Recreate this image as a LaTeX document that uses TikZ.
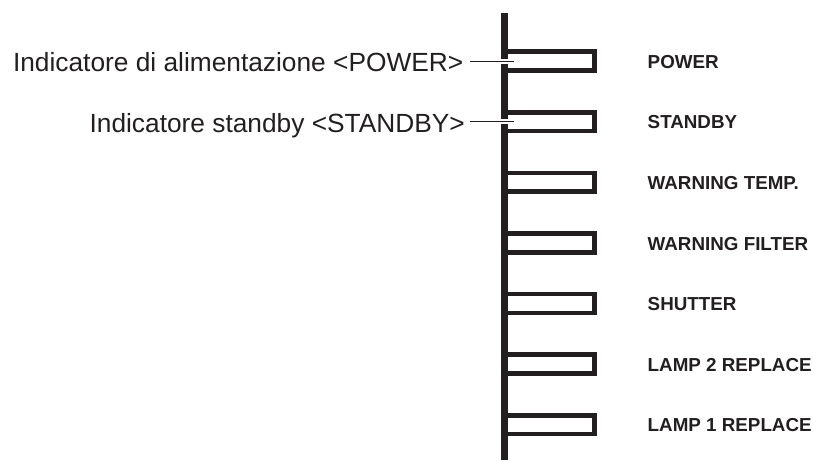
\documentclass[tikz,border=0pt]{standalone}
\usepackage{fontspec}
\setmainfont{Liberation Sans}
\definecolor{ink}{HTML}{231F20}
\tikzset{
  indbox/.style={draw=ink, line width=4.6, line join=miter, line cap=butt},
  indlabel/.style={anchor=base west, inner sep=0, text=ink, font=\bfseries\fontsize{18.8}{20}\selectfont},
  calllabel/.style={anchor=base east, inner sep=0, text=ink, font=\fontsize{26.3}{30}\selectfont},
  leader/.style={draw=ink, line width=1.3},
  halo/.style={draw=white, line width=5}
}
\begin{document}
\begin{tikzpicture}[x=1pt,y=-1pt]
\useasboundingbox (0,0) rectangle (813,460);
% main bar
\fill[ink] (500.8,13) rectangle (508.3,460);
% indicators
\foreach \i/\t in {0/POWER,1/STANDBY,2/WARNING TEMP.,3/WARNING FILTER,4/SHUTTER,5/LAMP 2 REPLACE,6/LAMP 1 REPLACE}{
  \pgfmathsetmacro\c{61+60.6*\i}
  \draw[indbox] (508,\c-9.4) -- (594.7,\c-9.4) -- (594.7,\c+9.4) -- (508,\c+9.4);
  \node[indlabel] (lab\i) at (647.5,\c+7.2) {\t};
}
% callouts
\node[calllabel] (cpower) at (463.5,71.7) {Indicatore di alimentazione <POWER>};
\node[calllabel] (cstandby) at (465,132.3) {Indicatore standby <STANDBY>};
\coordinate (epower) at (514,61.7);
\coordinate (estandby) at (514,121.7);
\draw[halo] (499,61.7) -- (510,61.7);
\draw[halo] (499,121.9) -- (510,121.9);
\draw[leader] ([xshift=6pt]cpower.east |- epower) -- (epower);
\draw[leader] ([xshift=5pt]cstandby.east |- estandby) -- (estandby);
\end{tikzpicture}
\end{document}
